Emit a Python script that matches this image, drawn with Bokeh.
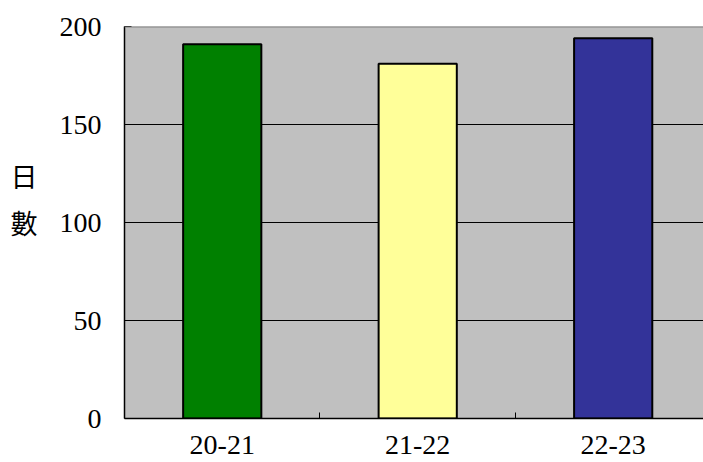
from bokeh.plotting import figure
from bokeh.models import Range1d, FixedTicker, Span
from bokeh.embed import file_html
from bokeh.resources import INLINE

categories = ["20-21", "21-22", "22-23"]
days = [191, 181, 194]
bar_colors = ["#008000", "#FFFF99", "#333399"]
y_ticks = [0, 50, 100, 150, 200]

positions = [i + 0.5 for i in range(len(categories))]

p = figure(width=703, height=462, output_backend="svg", toolbar_location=None,
           x_range=Range1d(0, 2.962), y_range=Range1d(0, 200),
           x_axis_location="below")
p.min_border_left = 124
p.min_border_right = 0
p.min_border_top = 26
p.min_border_bottom = 44
p.border_fill_color = "white"
p.outline_line_color = None
p.background_fill_color = "#C0C0C0"

p.vbar(x=positions, top=days, width=0.40, bottom=0,
       fill_color=bar_colors, line_color="black", line_width=2)

# top border
p.add_layout(Span(location=200, dimension="width", line_color="#808080", line_width=2))

# grid
p.xgrid.visible = False
p.ygrid.ticker = FixedTicker(ticks=[50, 100, 150])
p.ygrid.grid_line_color = "black"
p.ygrid.grid_line_width = 1

font = "Liberation Serif"

xa = p.xaxis[0]
xa.ticker = FixedTicker(ticks=positions, minor_ticks=[1, 2])
xa.major_label_overrides = {pos: c for pos, c in zip(positions, categories)}
xa.major_tick_in = 0
xa.major_tick_out = 0
xa.minor_tick_in = 6
xa.minor_tick_out = 0
xa.minor_tick_line_color = "black"
xa.axis_line_color = "black"
xa.axis_line_width = 1.5
xa.major_label_text_font = font
xa.major_label_text_font_size = "28px"
xa.major_label_text_color = "black"
xa.major_label_standoff = 17

ya = p.yaxis[0]
ya.ticker = FixedTicker(ticks=y_ticks)
ya.major_tick_in = 7
ya.major_tick_out = 0
ya.major_tick_line_color = "black"
ya.minor_tick_line_color = None
ya.axis_line_color = "black"
ya.axis_line_width = 1.5
ya.major_label_text_font = font
ya.major_label_text_font_size = "28px"
ya.major_label_text_color = "black"
ya.major_label_standoff = 23
ya.axis_label = "日\n數\n "
ya.axis_label_orientation = "horizontal"
ya.axis_label_text_font = "Noto Sans CJK TC"
ya.axis_label_text_font_style = "normal"
ya.axis_label_text_font_size = "27px"
ya.axis_label_text_color = "black"
ya.axis_label_standoff = 19

open("out.html", "w").write(file_html(p, INLINE))
